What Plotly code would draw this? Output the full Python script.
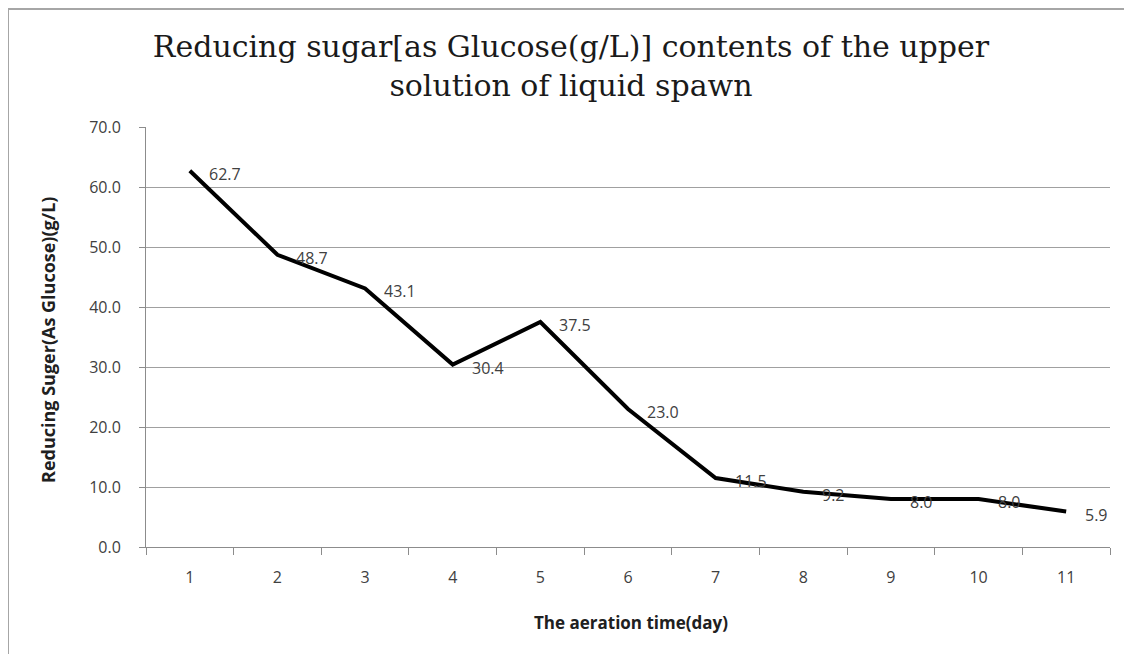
import plotly.graph_objects as go

days = ["1", "2", "3", "4", "5", "6", "7", "8", "9", "10", "11"]
sugar = [62.7, 48.7, 43.1, 30.4, 37.5, 23.0, 11.5, 9.2, 8.0, 8.0, 5.9]
y_ticks = [0, 10, 20, 30, 40, 50, 60, 70]
y_tick_text = ["%.1f" % v for v in y_ticks]

# page offset of 8px (body margin) compensated
OFF = 8
W, H = 1132, 654
L = 146 - OFF
T = 127 - OFF
R = W - (1110 - OFF)
B = H - (547 - OFF)
pw, ph = W - L - R, H - T - B


def px_x(page_x):
    return (page_x - OFF - L) / pw


def px_y(page_y):
    return (H - B - (page_y - OFF)) / ph


SANS = "Open Sans, Liberation Sans"

fig = go.Figure()
fig.add_trace(go.Scatter(
    x=days, y=sugar, mode="lines",
    line=dict(color="black", width=4),
    hoverinfo="skip", showlegend=False,
))

for i, v in enumerate(sugar):
    fig.add_annotation(x=i, y=v, text="%.1f" % v, showarrow=False,
                       xanchor="left", yanchor="middle", xshift=17, yshift=-3,
                       font=dict(family=SANS, size=16, color="#404040"))

fig.add_annotation(xref="paper", yref="paper", x=px_x(48), y=px_y(340),
                   text="<b>Reducing Suger(As Glucose)(g/L)</b>", textangle=-90,
                   showarrow=False, xanchor="center", yanchor="middle",
                   font=dict(family=SANS, size=18, color="#202020"))
fig.add_annotation(xref="paper", yref="paper", x=px_x(631), y=px_y(622),
                   text="<b>The aeration time(day)</b>",
                   showarrow=False, xanchor="center", yanchor="middle",
                   font=dict(family=SANS, size=17, color="#202020"))

# outer chart border
fig.add_shape(type="rect", xref="paper", yref="paper",
              x0=px_x(8), x1=px_x(1150), y0=px_y(680), y1=px_y(9),
              line=dict(color="#a6a6a6", width=2), layer="below")

fig.update_layout(
    width=W, height=H,
    margin=dict(l=L, r=R, t=T, b=B),
    paper_bgcolor="white", plot_bgcolor="white",
    title=dict(text="Reducing sugar[as Glucose(g/L)] contents of the upper<br>solution of liquid spawn",
               x=(571 - OFF) / W, xanchor="center", y=1 - (57 - OFF) / H, yanchor="middle",
               font=dict(family="DejaVu Serif", size=30, color="#1a1a1a")),
    xaxis=dict(type="category", range=[-0.5, 10.5], showgrid=False,
               showline=True, linecolor="#8c8c8c", linewidth=1,
               ticks="outside", ticklen=7, tickcolor="#8c8c8c", tickson="boundaries",
               ticklabelstandoff=16,
               tickfont=dict(family=SANS, size=16, color="#404040")),
    yaxis=dict(range=[0, 70], tickvals=y_ticks, ticktext=y_tick_text,
               showgrid=True, gridcolor="#a0a0a0", gridwidth=1,
               showline=True, linecolor="#8c8c8c", linewidth=1,
               ticks="outside", ticklen=6, tickcolor="#8c8c8c",
               ticklabelstandoff=15, zeroline=False,
               tickfont=dict(family=SANS, size=16, color="#404040")),
)

fig.write_html("out.html")
